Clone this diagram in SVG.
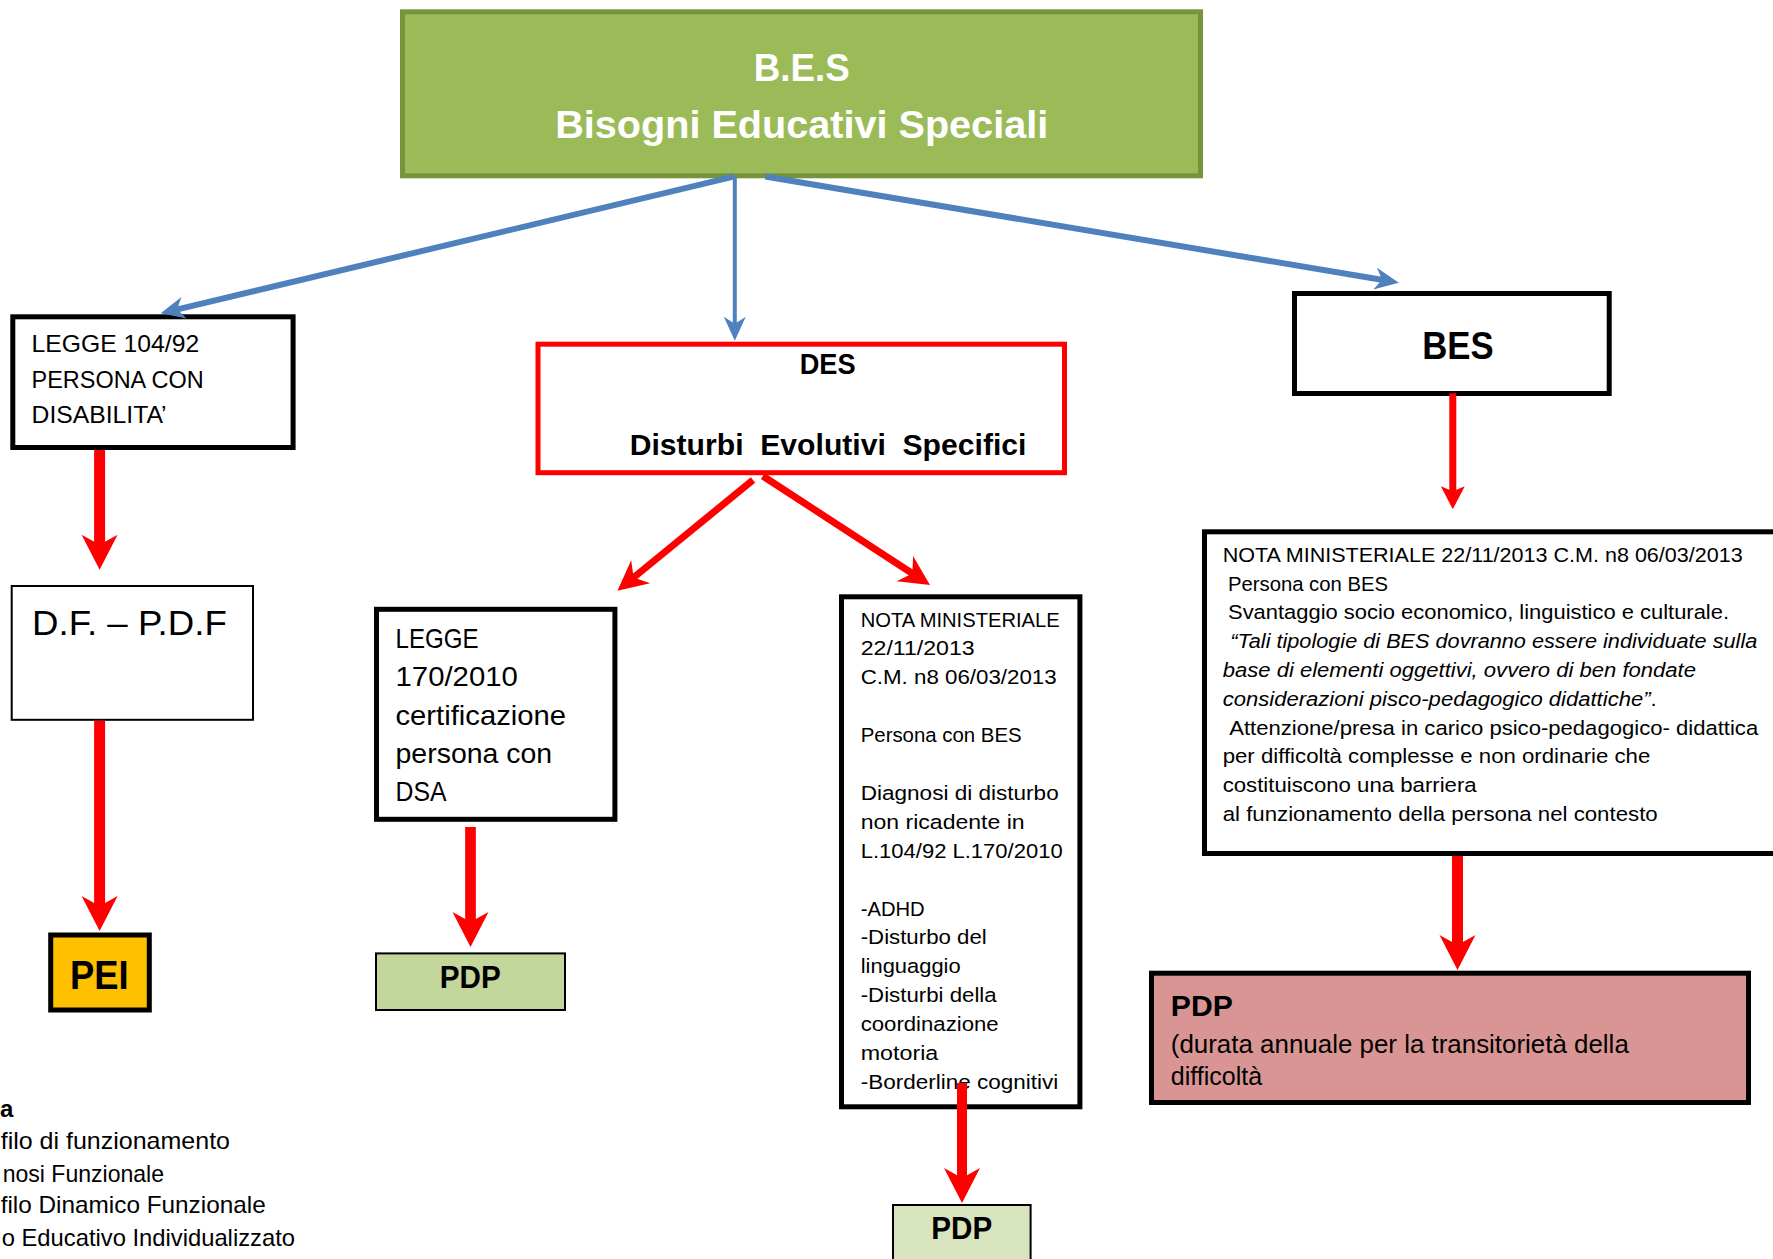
<svg xmlns="http://www.w3.org/2000/svg" width="1773" height="1259" viewBox="0 0 1773 1259">
<style>
.t{font-family:"Liberation Sans",Arial,sans-serif;fill:#000}
.b{font-weight:bold}
.i{font-style:italic}
.w{fill:#fff}
.box{fill:#fff;stroke:#000;stroke-width:5}
.thin{stroke:#000;stroke-width:2}
.blue{stroke:#4F81BD;fill:none}
.red{stroke:#FF0000;fill:none}
.s20{font-size:20.5px}
</style>
<defs>
<marker id="blueHead" viewBox="-26 -13 28 26" markerWidth="28" markerHeight="26" refX="-13" refY="0" orient="auto" markerUnits="userSpaceOnUse" overflow="visible">
<path d="M0,0 L-24,-11 L-17,0 L-24,11 Z" fill="#4F81BD"/>
</marker>
<marker id="redBig" viewBox="-37 -20 39 40" markerWidth="39" markerHeight="40" refX="-20" refY="0" orient="auto" markerUnits="userSpaceOnUse" overflow="visible">
<path d="M0,0 L-35,-18 L-25,0 L-35,18 Z" fill="#FF0000"/>
</marker>
<marker id="redMed" viewBox="-32 -17 34 34" markerWidth="34" markerHeight="34" refX="-16" refY="0" orient="auto" markerUnits="userSpaceOnUse" overflow="visible">
<path d="M0,0 L-30,-15 L-21,0 L-30,15 Z" fill="#FF0000"/>
</marker>
<marker id="redSmall" viewBox="-25 -14 27 28" markerWidth="27" markerHeight="28" refX="-11" refY="0" orient="auto" markerUnits="userSpaceOnUse" overflow="visible">
<path d="M0,0 L-23,-12 L-18,0 L-23,12 Z" fill="#FF0000"/>
</marker>
</defs>
<rect width="1773" height="1259" fill="#fff"/>

<g id="node-bes-title">
<rect x="402.5" y="11.8" width="798" height="164" fill="#9BBB59" stroke="#77933C" stroke-width="5"/>
<text class="t b w" x="801.7" y="81" font-size="39" text-anchor="middle" textLength="96" lengthAdjust="spacingAndGlyphs">B.E.S</text>
<text class="t b w" x="801.7" y="137.7" font-size="39" text-anchor="middle" textLength="493" lengthAdjust="spacingAndGlyphs">Bisogni Educativi Speciali</text>
</g>

<g id="node-legge104">
<rect class="box" x="12.8" y="316.8" width="280.3" height="130.7"/>
<text class="t" x="31.6" y="352.3" font-size="24" textLength="167.6" lengthAdjust="spacingAndGlyphs">LEGGE 104/92</text>
<text class="t" x="31.6" y="388.3" font-size="24" textLength="172" lengthAdjust="spacingAndGlyphs">PERSONA CON</text>
<text class="t" x="31.6" y="423.3" font-size="24" textLength="135" lengthAdjust="spacingAndGlyphs">DISABILITA’</text>
</g>

<g id="node-df-pdf">
<rect x="11.7" y="586" width="241.3" height="133.8" fill="#fff" class="thin"/>
<text class="t" x="32" y="634.7" font-size="35" textLength="194.8" lengthAdjust="spacingAndGlyphs">D.F. – P.D.F</text>
</g>

<g id="node-pei">
<rect x="50.7" y="935" width="98.6" height="75" fill="#FFC000" stroke="#000" stroke-width="5"/>
<text class="t b" x="99.3" y="988.7" font-size="40" text-anchor="middle" textLength="58.6" lengthAdjust="spacingAndGlyphs">PEI</text>
</g>

<g id="node-legend">
<text class="t b" x="0" y="1116.7" font-size="24">a</text>
<text class="t" x="0.7" y="1149.3" font-size="24" textLength="229.3" lengthAdjust="spacingAndGlyphs">filo di funzionamento</text>
<text class="t" x="2.7" y="1181.7" font-size="24" textLength="161.3" lengthAdjust="spacingAndGlyphs">nosi Funzionale</text>
<text class="t" x="0.7" y="1213.3" font-size="24" textLength="265" lengthAdjust="spacingAndGlyphs">filo Dinamico Funzionale</text>
<text class="t" x="1.7" y="1245.7" font-size="24" textLength="293.3" lengthAdjust="spacingAndGlyphs">o Educativo Individualizzato</text>
</g>

<g id="node-des">
<rect x="538" y="344.2" width="526.5" height="128.5" fill="#fff" stroke="#FF0000" stroke-width="5"/>
<text class="t b" x="827.7" y="374.3" font-size="29" text-anchor="middle" textLength="56" lengthAdjust="spacingAndGlyphs">DES</text>
<text class="t b" x="828.1" y="455" font-size="29" text-anchor="middle" word-spacing="8" textLength="396.8" lengthAdjust="spacingAndGlyphs">Disturbi Evolutivi Specifici</text>
</g>

<g id="node-legge170">
<rect class="box" x="376.5" y="609.3" width="238.4" height="210"/>
<text class="t" x="395.5" y="648" font-size="28" textLength="83" lengthAdjust="spacingAndGlyphs">LEGGE</text>
<text class="t" x="395.5" y="686.4" font-size="28" textLength="122.4" lengthAdjust="spacingAndGlyphs">170/2010</text>
<text class="t" x="395.5" y="724.7" font-size="28" textLength="170.6" lengthAdjust="spacingAndGlyphs">certificazione</text>
<text class="t" x="395.5" y="763" font-size="28" textLength="156.7" lengthAdjust="spacingAndGlyphs">persona con</text>
<text class="t" x="395.5" y="801" font-size="28" textLength="51" lengthAdjust="spacingAndGlyphs">DSA</text>
</g>

<g id="node-pdp-left">
<rect x="376" y="953.4" width="189" height="56.6" fill="#C3D69B" class="thin"/>
<text class="t b" x="470.3" y="988" font-size="31" text-anchor="middle" textLength="61" lengthAdjust="spacingAndGlyphs">PDP</text>
</g>

<g id="node-nota-middle">
<rect class="box" x="841.5" y="596.8" width="238.4" height="510"/>
<text class="t s20" x="860.7" y="626.5" textLength="199" lengthAdjust="spacingAndGlyphs">NOTA MINISTERIALE</text>
<text class="t s20" x="860.7" y="655.4" textLength="114" lengthAdjust="spacingAndGlyphs">22/11/2013</text>
<text class="t s20" x="860.7" y="684.3" textLength="196" lengthAdjust="spacingAndGlyphs">C.M. n8 06/03/2013</text>
<text class="t s20" x="860.7" y="742.1" textLength="161" lengthAdjust="spacingAndGlyphs">Persona con BES</text>
<text class="t s20" x="860.7" y="799.9" textLength="198" lengthAdjust="spacingAndGlyphs">Diagnosi di disturbo</text>
<text class="t s20" x="860.7" y="828.8" textLength="164" lengthAdjust="spacingAndGlyphs">non ricadente in</text>
<text class="t s20" x="860.7" y="857.7" textLength="202" lengthAdjust="spacingAndGlyphs">L.104/92 L.170/2010</text>
<text class="t s20" x="860.7" y="915.5" textLength="64" lengthAdjust="spacingAndGlyphs">-ADHD</text>
<text class="t s20" x="860.7" y="944.4" textLength="126" lengthAdjust="spacingAndGlyphs">-Disturbo del</text>
<text class="t s20" x="860.7" y="973.3" textLength="100" lengthAdjust="spacingAndGlyphs">linguaggio</text>
<text class="t s20" x="860.7" y="1002.2" textLength="136" lengthAdjust="spacingAndGlyphs">-Disturbi della</text>
<text class="t s20" x="860.7" y="1031.1" textLength="138" lengthAdjust="spacingAndGlyphs">coordinazione</text>
<text class="t s20" x="860.7" y="1060" textLength="77.6" lengthAdjust="spacingAndGlyphs">motoria</text>
<text class="t s20" x="860.7" y="1088.9" textLength="197.6" lengthAdjust="spacingAndGlyphs">-Borderline cognitivi</text>
</g>

<g id="node-pdp-bottom">
<rect x="893" y="1205" width="137.6" height="70" fill="#D7E4BD" class="thin"/>
<text class="t b" x="961.8" y="1239" font-size="31" text-anchor="middle" textLength="61" lengthAdjust="spacingAndGlyphs">PDP</text>
</g>

<g id="node-bes">
<rect class="box" x="1294.5" y="293.5" width="314.7" height="100"/>
<text class="t b" x="1458" y="359.3" font-size="38" text-anchor="middle" textLength="71.4" lengthAdjust="spacingAndGlyphs">BES</text>
</g>

<g id="node-nota-right">
<rect class="box" x="1204.5" y="531.8" width="600" height="321.7"/>
<text class="t s20" x="1222.7" y="561.7" textLength="520" lengthAdjust="spacingAndGlyphs">NOTA MINISTERIALE 22/11/2013 C.M. n8 06/03/2013</text>
<text class="t s20" x="1228" y="590.5" textLength="160" lengthAdjust="spacingAndGlyphs">Persona con BES</text>
<text class="t s20" x="1228" y="619.3" textLength="501" lengthAdjust="spacingAndGlyphs">Svantaggio socio economico, linguistico e culturale.</text>
<text class="t s20 i" x="1230.3" y="648.1" textLength="527" lengthAdjust="spacingAndGlyphs">“Tali tipologie di BES dovranno essere individuate sulla</text>
<text class="t s20 i" x="1222.7" y="676.9" textLength="473.3" lengthAdjust="spacingAndGlyphs">base di elementi oggettivi, ovvero di ben fondate</text>
<text class="t s20" x="1222.7" y="705.7" textLength="434" lengthAdjust="spacingAndGlyphs"><tspan class="i">considerazioni pisco-pedagogico didattiche”</tspan>.</text>
<text class="t s20" x="1229.2" y="734.5" textLength="529" lengthAdjust="spacingAndGlyphs">Attenzione/presa in carico psico-pedagogico- didattica</text>
<text class="t s20" x="1222.7" y="763.3" textLength="427.6" lengthAdjust="spacingAndGlyphs">per difficoltà complesse e non ordinarie che</text>
<text class="t s20" x="1222.7" y="792.1" textLength="254" lengthAdjust="spacingAndGlyphs">costituiscono una barriera</text>
<text class="t s20" x="1222.7" y="820.9" textLength="435" lengthAdjust="spacingAndGlyphs">al funzionamento della persona nel contesto</text>
</g>

<g id="node-pdp-right">
<rect x="1151.5" y="973.2" width="597" height="129.3" fill="#D99594" stroke="#000" stroke-width="5"/>
<text class="t b" x="1170.8" y="1016" font-size="30" textLength="62" lengthAdjust="spacingAndGlyphs">PDP</text>
<text class="t" x="1170.8" y="1052.7" font-size="25" textLength="458" lengthAdjust="spacingAndGlyphs">(durata annuale per la transitorietà della</text>
<text class="t" x="1170.8" y="1085" font-size="25">difficoltà</text>
</g>

<g id="connectors">
<line class="blue" x1="733.6" y1="176.7" x2="173.3" y2="310.3" stroke-width="6" marker-end="url(#blueHead)"/>
<line class="blue" x1="734.8" y1="176.7" x2="734.8" y2="327.7" stroke-width="4" marker-end="url(#blueHead)"/>
<line class="blue" x1="765.2" y1="176.5" x2="1386" y2="280.5" stroke-width="6" marker-end="url(#blueHead)"/>
<line class="red" x1="99.6" y1="450" x2="99.6" y2="549.7" stroke-width="11" marker-end="url(#redBig)"/>
<line class="red" x1="99.6" y1="720.8" x2="99.6" y2="911" stroke-width="11" marker-end="url(#redBig)"/>
<line class="red" x1="753" y1="480" x2="629.8" y2="580.6" stroke-width="7" marker-end="url(#redMed)"/>
<line class="red" x1="762.8" y1="476" x2="916.6" y2="576.3" stroke-width="7" marker-end="url(#redMed)"/>
<line class="red" x1="470.5" y1="826.9" x2="470.5" y2="927" stroke-width="10.7" marker-end="url(#redBig)"/>
<line class="red" x1="962" y1="1083" x2="962" y2="1183" stroke-width="10" marker-end="url(#redBig)"/>
<line class="red" x1="1452.8" y1="393.3" x2="1452.8" y2="498.3" stroke-width="7" marker-end="url(#redSmall)"/>
<line class="red" x1="1457.5" y1="856" x2="1457.5" y2="950" stroke-width="11" marker-end="url(#redBig)"/>
</g>
</svg>
